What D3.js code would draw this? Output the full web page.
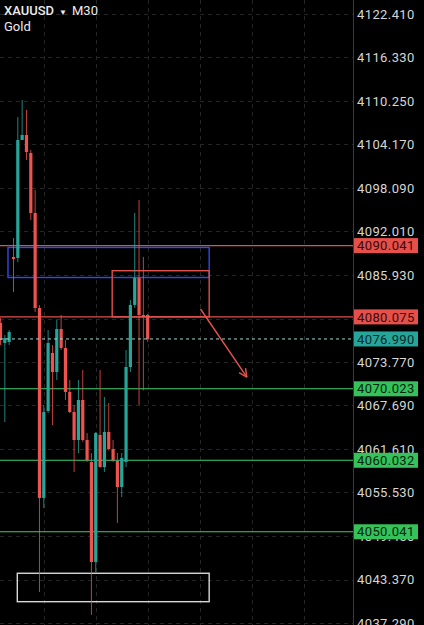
<!DOCTYPE html>
<html><head><meta charset="utf-8">
<script src="https://cdn.jsdelivr.net/npm/d3@7"></script>
<style>html,body{margin:0;padding:0;background:#000;overflow:hidden}</style>
</head><body>
<svg id="c" width="424" height="625"></svg>
<script>
// ---- data (XAUUSD M30) ----
const opens  = [4079.22,4076.43,4076.57,4088.45,4088.31,4104.80,4105.50,4102.98,4094.60,4081.32,4054.76,4066.92,4075.03,4072.37,4078.38,4075.73,4069.58,4066.78,4062.87,4068.46,4062.87,4059.79,4045.82,4063.57,4059.09,4063.99,4061.61,4059.93,4056.30,4059.79,4073.07,4081.74,4085.51,4080.34,4080.34];
const highs  = [4079.92,4077.54,4078.24,4091.10,4108.01,4110.39,4108.99,4103.40,4097.81,4081.74,4067.76,4078.24,4076.15,4079.64,4080.34,4076.84,4071.25,4067.76,4071.25,4072.65,4063.85,4061.05,4063.99,4072.65,4068.88,4068.04,4062.87,4061.05,4061.05,4075.45,4082.44,4094.60,4096.41,4088.45,4080.48];
const lows   = [4076.15,4065.38,4076.15,4083.55,4087.75,4104.80,4102.00,4093.62,4080.76,4041.62,4053.36,4066.64,4064.96,4071.25,4075.45,4068.46,4066.64,4058.40,4061.05,4062.60,4059.79,4038.41,4044.42,4059.00,4058.40,4061.40,4059.79,4051.27,4054.90,4059.09,4072.37,4081.32,4067.76,4069.80,4076.57];
const closes = [4076.84,4077.12,4077.96,4088.17,4104.80,4105.50,4103.12,4094.60,4081.32,4054.76,4066.78,4076.43,4072.37,4078.38,4075.73,4069.58,4066.78,4062.87,4068.46,4062.87,4060.07,4045.82,4063.85,4059.09,4063.99,4061.61,4060.07,4056.30,4060.35,4073.07,4081.74,4085.51,4080.34,4080.06,4076.99];
const priceTicks = [4122.41,4116.33,4110.25,4104.17,4098.09,4092.01,4085.93,4079.85,4073.77,4067.69,4061.61,4055.53,4049.45,4043.37,4037.29];
const timeGridIdx = [10,22,34,46,58,70];
const resistanceLevels = [4090.041, 4080.075];
const supportLevels = [4070.023, 4060.032, 4050.041];
const currentPrice = 4076.99;
// drawn objects: [startIdx, endIdx, priceTop, priceBottom]
const blueZone  = [1.73, 48.2, 4089.78, 4085.58];
const redZone   = [25.8, 48.2, 4086.53, 4080.075];
const whiteZone = [3.88, 48.2, 4044.24, 4040.27];
const arrowPts  = [[46.2, 4081.18],[56.9, 4071.67]];
const symbol = "XAUUSD", timeframe = "M30", instrument = "Gold";

const W = 424, H = 625, axisX = 353;
const svg = d3.select("#c");
svg.append("rect").attr("width",W).attr("height",H).attr("fill","#000");

const y = d3.scaleLinear().domain([4037.29, 4122.41]).range([623, 14]);
const x = d3.scaleLinear().domain([0, 34]).range([0.5, 147.7]);

const data = opens.map((o,i)=>({i,o,h:highs[i],l:lows[i],c:closes[i]}));

// grid
const grid = svg.append("g");
grid.selectAll("line.h").data(priceTicks).join("line")
  .attr("x1",0).attr("x2",axisX).attr("y1",d=>Math.round(y(d))+0.5).attr("y2",d=>Math.round(y(d))+0.5)
  .attr("stroke","#262626").attr("stroke-dasharray","4,4");
grid.selectAll("line.v").data(timeGridIdx).join("line")
  .attr("x1",d=>Math.round(x(d))+0.5).attr("x2",d=>Math.round(x(d))+0.5).attr("y1",0).attr("y2",H)
  .attr("stroke","#262626").attr("stroke-dasharray","4,4");

// axis separator
svg.append("line").attr("x1",axisX+0.5).attr("x2",axisX+0.5).attr("y1",0).attr("y2",H).attr("stroke","#3a3a3a");

const up="#26a69a", dn="#ef5350";

// level lines
svg.selectAll("line.res").data(resistanceLevels).join("line")
  .attr("x1",0).attr("x2",axisX).attr("y1",d=>y(d)).attr("y2",d=>y(d))
  .attr("stroke","#e0504c").attr("stroke-width",1.4);
svg.selectAll("line.sup").data(supportLevels).join("line")
  .attr("x1",0).attr("x2",axisX).attr("y1",d=>y(d)).attr("y2",d=>y(d))
  .attr("stroke","#3fcf6f").attr("stroke-width",1.1);

// zones
function zone(z, color, w){
  svg.append("rect").attr("x",x(z[0])).attr("y",y(z[2]))
    .attr("width",x(z[1])-x(z[0])).attr("height",y(z[3])-y(z[2]))
    .attr("fill","none").attr("stroke",color).attr("stroke-width",w);
}
zone(blueZone,"#2a4cf0",1.4);
zone(redZone,"#e0504c",1.4);
zone(whiteZone,"#d8d8d8",1.4);

// candles
const g = svg.append("g");
g.selectAll("line.w").data(data).join("line")
  .attr("x1",d=>x(d.i)).attr("x2",d=>x(d.i)).attr("y1",d=>y(d.h)).attr("y2",d=>y(d.l))
  .attr("stroke",d=>d.c>=d.o?up:dn).attr("stroke-width",1).attr("opacity",0.8);
g.selectAll("rect.b").data(data).join("rect")
  .attr("x",d=>x(d.i)-1.6).attr("width",3.2)
  .attr("y",d=>y(Math.max(d.o,d.c))).attr("height",d=>Math.max(1,Math.abs(y(d.o)-y(d.c))))
  .attr("fill",d=>d.c>=d.o?up:dn);

// current price dashed line
svg.append("line").attr("x1",0).attr("x2",axisX).attr("y1",y(currentPrice)).attr("y2",y(currentPrice))
  .attr("stroke","#9fd6cf").attr("stroke-dasharray","3,3").attr("stroke-width",1);

// arrow
const ax0=x(arrowPts[0][0]), ay0=y(arrowPts[0][1]), ax1=x(arrowPts[1][0]), ay1=y(arrowPts[1][1]);
svg.append("line").attr("x1",ax0).attr("y1",ay0).attr("x2",ax1).attr("y2",ay1)
  .attr("stroke","#e8524e").attr("stroke-width",1.4);
const ang=Math.atan2(ay1-ay0,ax1-ax0), hl=9;
[ang+Math.PI-0.45, ang+Math.PI+0.45].forEach(a=>{
  svg.append("line").attr("x1",ax1).attr("y1",ay1)
    .attr("x2",ax1+hl*Math.cos(a)).attr("y2",ay1+hl*Math.sin(a))
    .attr("stroke","#e8524e").attr("stroke-width",1.4);
});

// tick labels
const font = "Roboto, 'Noto Sans', sans-serif";
svg.selectAll("text.tick").data(priceTicks).join("text")
  .attr("x",357).attr("y",d=>y(d)).attr("dy","0.35em")
  .attr("font-family",font).attr("font-size",13).attr("letter-spacing","0.4px")
  .attr("fill","#d6d6d6").text(d=>d.toFixed(3));

// price labels
const labels = [
  ...resistanceLevels.map(v=>({v,bg:"#e5504b",fg:"#3a0807"})),
  ...supportLevels.map(v=>({v,bg:"#35c25a",fg:"#06260f"})),
  {v:currentPrice,bg:"#26a69a",fg:"#052a27"}
];
const lg = svg.selectAll("g.lab").data(labels).join("g")
  .attr("transform",d=>`translate(354,${y(d.v)})`);
lg.append("rect").attr("x",0).attr("y",-7.5).attr("width",64).attr("height",15).attr("fill",d=>d.bg);
lg.append("text").attr("x",3).attr("y",0).attr("dy","0.36em")
  .attr("font-family",font).attr("font-size",13).attr("letter-spacing","0.4px")
  .attr("fill",d=>d.fg).text(d=>d.v.toFixed(3));

// header
const hd = svg.append("text").attr("x",4).attr("y",15).attr("font-family",font).attr("font-size",13).attr("fill","#ececec");
hd.append("tspan").attr("font-weight",500).text(symbol);
hd.append("tspan").attr("dx",5).attr("font-size",8).text("▼");
hd.append("tspan").attr("dx",5).text(timeframe);
svg.append("text").attr("x",4).attr("y",31).attr("font-family",font).attr("font-size",13).attr("fill","#ececec").text(instrument);
</script>
</body></html>
